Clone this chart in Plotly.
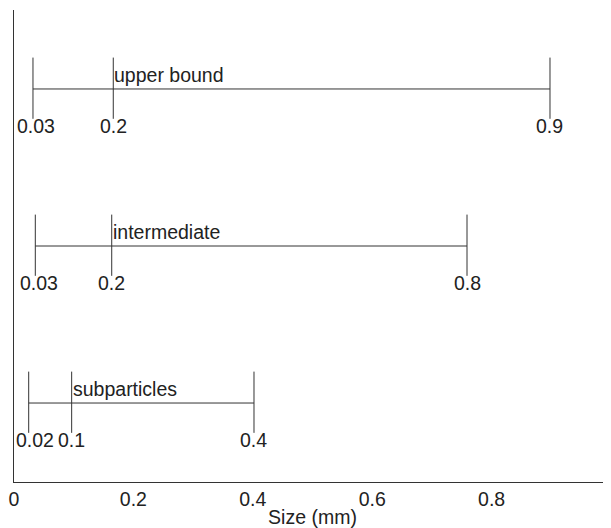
import plotly.graph_objects as go

# ---- data ----
categories = ["subparticles", "intermediate", "upper bound"]
row_pos = [1, 2, 3]
lower_vals = [0.0246, 0.0357, 0.0318]
mid_vals = [0.0966, 0.1637, 0.1663]
upper_vals = [0.402, 0.7588, 0.8978]
lower_labels = ["0.02", "0.03", "0.03"]
mid_labels = ["0.1", "0.2", "0.2"]
upper_labels = ["0.4", "0.8", "0.9"]
x_tickvals = [0, 0.2, 0.4, 0.6, 0.8, 1]
x_ticktext = ["0", "0.2", "0.4", "0.6", "0.8", "1"]

FONT = "Liberation Sans, Arial, Helvetica, sans-serif"
TXT = "#222222"
LINE = "#333333"
FS = 19.5
TICK_UP = 0.2
TICK_DN = 0.19

fig = go.Figure()

for i, y in enumerate(row_pos):
    lo, md, up = lower_vals[i], mid_vals[i], upper_vals[i]
    # horizontal range line
    fig.add_trace(go.Scatter(x=[lo, up], y=[y, y], mode="lines",
                             line=dict(color=LINE, width=1), hoverinfo="skip",
                             showlegend=False))
    # vertical tick marks
    xs, ys = [], []
    for v in (lo, md, up):
        xs += [v, v, None]
        ys += [y - TICK_DN, y + TICK_UP, None]
    fig.add_trace(go.Scatter(x=xs, y=ys, mode="lines",
                             line=dict(color=LINE, width=1), hoverinfo="skip",
                             showlegend=False))
    # category label
    fig.add_annotation(x=md, y=y, text=categories[i], showarrow=False,
                       xanchor="left", yanchor="bottom", xshift=-1, yshift=1,
                       font=dict(family=FONT, size=FS, color=TXT))
    # value labels under ticks
    shifts = [6, 4, 3]
    for v, lab, xs_ in ((lo, lower_labels[i], shifts[i]),
                        (md, mid_labels[i], 0),
                        (up, upper_labels[i], 0)):
        fig.add_annotation(x=v, y=y - TICK_DN, text=lab, showarrow=False,
                           xanchor="center", yanchor="top", xshift=xs_, yshift=6,
                           font=dict(family=FONT, size=FS, color=TXT))

# the page body has an 8px margin; size the figure so the plot lands where the reference has it
fig.update_layout(
    width=603, height=520,
    margin=dict(l=6, r=0, t=2, b=46, autoexpand=False),
    paper_bgcolor="white", plot_bgcolor="white",
    font=dict(family=FONT, size=FS, color=TXT),
    xaxis=dict(range=[0, 1.0], tickvals=x_tickvals, ticktext=x_ticktext,
               showgrid=False, zeroline=False, showline=True,
               linecolor=LINE, linewidth=1, ticks="", automargin=False,
               title=dict(text="Size (mm)", standoff=0,
                          font=dict(family=FONT, size=FS, color=TXT)),
               tickfont=dict(family=FONT, size=FS, color=TXT)),
    yaxis=dict(range=[0.497, 3.503], showgrid=False, zeroline=False,
               showline=True, linecolor=LINE, linewidth=1, automargin=False,
               showticklabels=False, ticks=""),
)

fig.write_html("out.html")
